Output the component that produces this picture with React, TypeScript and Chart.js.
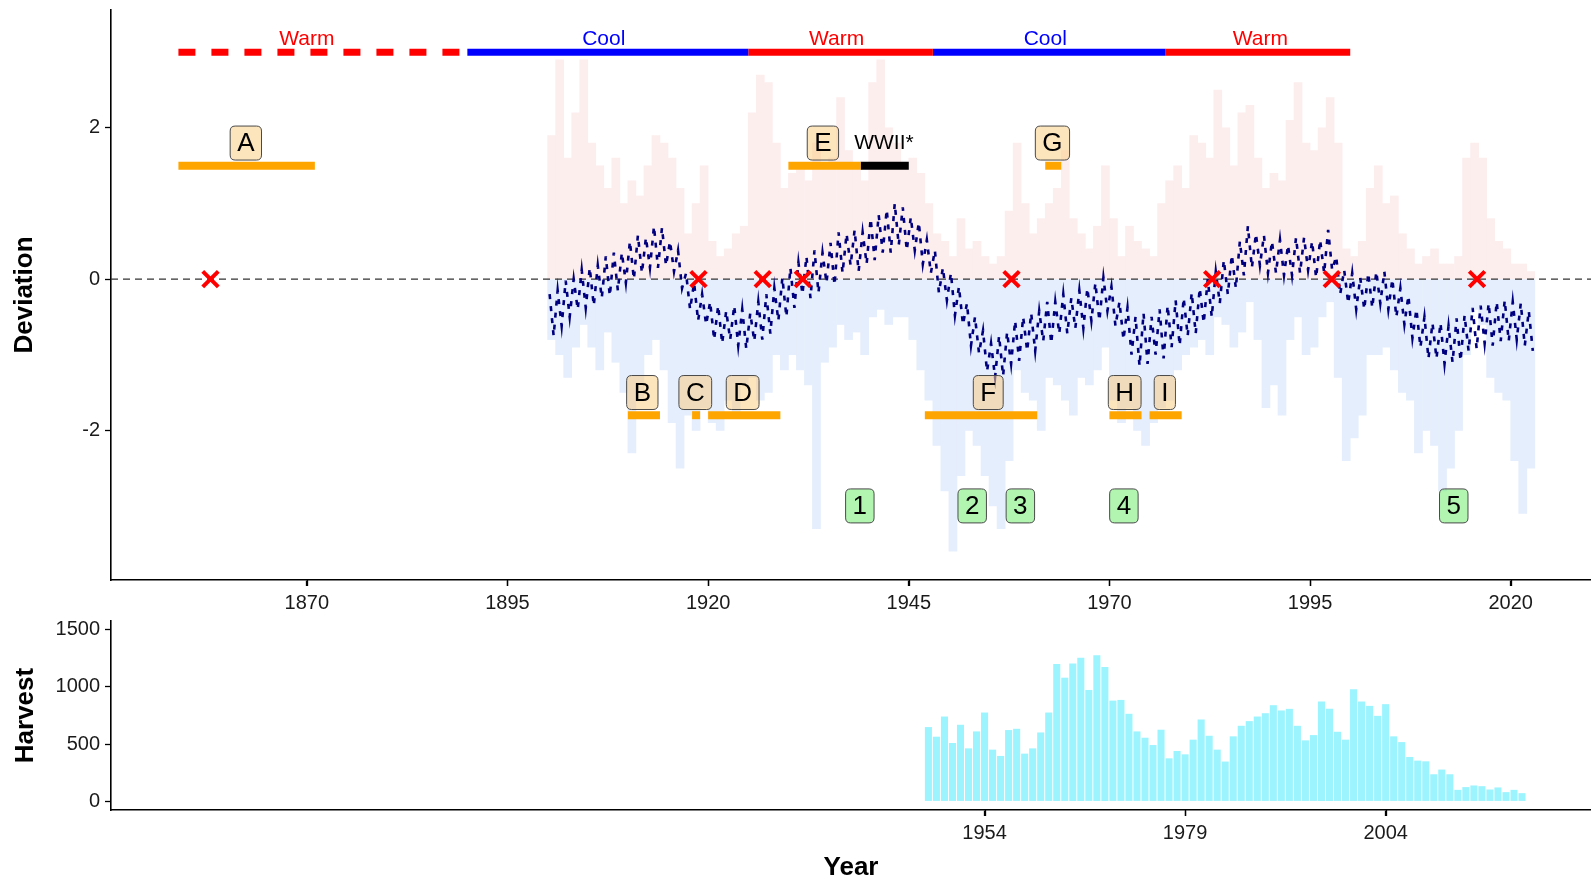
import React, { useEffect, useRef } from 'react';
import { Chart, registerables } from 'chart.js';
Chart.register(...registerables);

const FONT = '"Liberation Sans", Arial, Helvetica, sans-serif';

// ---------- top panel axes ----------
const DEV_X_MIN = 1845.6;
const DEV_X_MAX = 2030;
const DEV_Y_MIN = -3.98;
const DEV_Y_MAX = 3.56;
const devXTicks = [1870, 1895, 1920, 1945, 1970, 1995, 2020];
const devYTicks = [-2, 0, 2];

// ---------- PDO series ----------
const pdoStartYear = 1900;
// smoothed index, two readings per year (1900 .. 2022)
const pdoSmooth = [
  -0.2, -0.75, -0.15, -0.62, -0.02, -0.5, 0.0, -0.4, 0.12, -0.38, 0.15, -0.35, 0.18, -0.25, 0.3, -0.22, 0.35, -0.15, 0.35, -0.05,
  0.5, 0.0, 0.58, 0.08, 0.55, 0.15, 0.7, 0.15, 0.68, 0.18, 0.5, 0.1, 0.38, -0.12, 0.08, -0.4, -0.05, -0.55, -0.2, -0.6,
  -0.3, -0.8, -0.35, -0.85, -0.42, -0.8, -0.35, -0.88, -0.4, -0.92, -0.45, -0.82, -0.3, -0.8, -0.2, -0.72, -0.12, -0.55, 0.02, -0.5,
  0.15, -0.38, 0.22, -0.2, 0.3, -0.25, 0.38, -0.18, 0.35, -0.05, 0.48, -0.08, 0.62, 0.08, 0.6, 0.18, 0.65, 0.1, 0.62, 0.2,
  0.8, 0.25, 0.85, 0.35, 0.92, 0.35, 1.0, 0.45, 0.95, 0.38, 0.82, 0.38, 0.75, 0.2, 0.52, 0.08, 0.38, -0.18, 0.15, -0.28,
  0.08, -0.48, -0.1, -0.6, -0.32, -0.88, -0.5, -0.98, -0.68, -1.22, -0.85, -1.3, -0.75, -1.28, -0.7, -1.12, -0.55, -1.08, -0.5, -0.95,
  -0.45, -0.95, -0.42, -0.82, -0.3, -0.85, -0.3, -0.72, -0.2, -0.72, -0.25, -0.65, -0.15, -0.65, -0.12, -0.55, -0.05, -0.55, 0.02, -0.42,
  -0.1, -0.62, -0.3, -0.8, -0.38, -1.0, -0.5, -1.15, -0.45, -1.12, -0.5, -1.0, -0.4, -1.05, -0.35, -0.9, -0.28, -0.88, -0.25, -0.75,
  -0.18, -0.72, -0.12, -0.58, 0.0, -0.5, 0.1, -0.32, 0.25, -0.2, 0.32, -0.12, 0.5, 0.05, 0.7, 0.15, 0.6, 0.18, 0.58, 0.08,
  0.5, 0.08, 0.52, 0.05, 0.45, 0.05, 0.55, 0.08, 0.55, 0.12, 0.5, 0.02, 0.52, 0.08, 0.65, 0.12, 0.3, -0.2, 0.12, -0.32,
  0.08, -0.4, 0.02, -0.4, 0.08, -0.38, 0.1, -0.32, 0.1, -0.4, 0.0, -0.5, -0.12, -0.6, -0.22, -0.78, -0.4, -0.9, -0.5, -1.05,
  -0.58, -1.05, -0.58, -1.12, -0.62, -1.1, -0.52, -1.08, -0.48, -0.95, -0.38, -0.92, -0.35, -0.85, -0.32, -0.88, -0.3, -0.82, -0.28, -0.82,
  -0.3, -0.8, -0.32, -0.88, -0.42, -0.95,
];
// yearly highest and lowest monthly value (1900 .. 2022)
const pdoHigh = [
  1.9, 2.9, 1.6, 2.2, 2.9, 1.8, 1.5, 1.2, 1.6, 1.0,
  1.3, 1.1, 1.5, 1.9, 1.8, 1.6, 1.2, 0.6, 1.0, 1.5,
  0.5, 0.3, 0.4, 0.6, 0.7, 2.2, 2.7, 2.6, 1.8, 1.2,
  1.4, 1.5, 1.3, 1.8, 1.5, 1.6, 2.4, 1.7, 1.5, 1.3,
  2.6, 2.9, 2.0, 1.8, 1.5, 1.6, 1.4, 1.0, 0.6, 0.5,
  0.3, 0.8, 0.4, 0.5, 0.3, 0.2, 0.3, 0.9, 1.8, 1.0,
  0.6, 0.8, 1.0, 1.2, 1.7, 0.8, 0.6, 0.4, 0.7, 1.5,
  0.8, 0.3, 0.7, 0.5, 0.4, 0.3, 1.0, 1.3, 1.5, 1.2,
  1.9, 1.8, 1.6, 2.5, 2.0, 1.5, 2.2, 2.3, 1.6, 1.2,
  1.4, 1.3, 2.1, 2.6, 1.8, 1.7, 2.0, 2.4, 1.8, 0.4,
  0.3, 0.5, 1.2, 1.5, 1.0, 1.1, 0.6, 0.4, 0.2, 0.3,
  0.4, 0.2, 0.2, 0.3, 1.6, 1.8, 1.6, 0.8, 0.5, 0.4,
  0.2, 0.2, 0.1,
];
const pdoLow = [
  -0.8, -1.0, -1.3, -0.9, -0.6, -0.9, -1.2, -0.7, -1.1, -1.5,
  -2.3, -1.6, -1.0, -0.8, -1.2, -1.9, -2.5, -1.8, -2.0, -1.7,
  -1.9, -2.0, -1.6, -1.8, -1.4, -1.3, -1.6, -1.5, -1.0, -1.2,
  -1.0, -1.2, -1.4, -3.3, -1.1, -0.9, -0.6, -0.8, -0.7, -1.0,
  -0.5, -0.4, -0.6, -0.5, -0.5, -0.8, -1.2, -1.6, -2.2, -2.8,
  -3.6, -2.6, -2.0, -2.2, -2.6, -3.0, -3.3, -2.4, -1.2, -1.5,
  -1.6, -2.0, -1.3, -1.4, -1.6, -1.8, -1.3, -1.4, -1.2, -0.9,
  -1.6, -1.9, -1.7, -2.0, -2.2, -1.9, -1.7, -1.6, -1.2, -1.0,
  -0.9, -0.8, -1.0, -0.5, -0.6, -0.9, -0.7, -0.3, -0.8, -1.7,
  -1.4, -1.8, -0.8, -0.5, -1.0, -0.9, -0.5, -0.3, -1.3, -2.4,
  -2.1, -1.8, -1.0, -1.0, -0.9, -1.2, -1.5, -1.6, -2.3, -2.0,
  -2.2, -2.8, -2.5, -2.0, -1.0, -0.4, -0.6, -1.3, -1.5, -1.6,
  -2.4, -3.1, -2.5,
];

// ---------- regimes ----------
const periodName = ['Warm', 'Cool', 'Warm', 'Cool', 'Warm'];
const periodStart = [1854, 1890, 1925, 1948, 1977];
const periodEnd = [1890, 1925, 1948, 1977, 2000];
const periodWarm = [true, false, true, false, true];
const periodDashed = [true, false, false, false, false];
const periodLabelX = [1870, 1907, 1936, 1962, 1988.8];
const PERIOD_Y = 3;
const PERIOD_LABEL_Y = 3.18;

// ---------- events ----------
const eventName = ['A', 'B', 'C', 'D', 'E', 'F', 'G', 'H', 'I'];
const eventStart = [1854, 1910, 1918, 1920, 1930, 1947, 1962, 1970, 1975];
const eventEnd = [1871, 1914, 1919, 1929, 1939, 1961, 1964, 1974, 1979];
const eventBarY = [1.5, -1.8, -1.8, -1.8, 1.5, -1.8, 1.5, -1.8, -1.8];
const eventLabelX = [1862.4, 1911.8, 1918.4, 1924.3, 1934.3, 1954.9, 1962.9, 1971.9, 1976.9];
const eventLabelY = [1.8, -1.5, -1.5, -1.5, 1.8, -1.5, 1.8, -1.5, -1.5];
const warName = 'WWII*';
const warStart = 1939;
const warEnd = 1945;
const warBarY = 1.5;
const warLabelX = 1941.9;
const warLabelY = 1.8;

const markerName = ['1', '2', '3', '4', '5'];
const markerX = [1938.9, 1952.9, 1958.9, 1971.8, 2012.9];
const markerY = [-3, -3, -3, -3, -3];

const crossX = [1858, 1918.8, 1926.8, 1931.8, 1957.8, 1982.8, 1997.7, 2015.8];

// ---------- harvest ----------
const HARV_X_MIN = 1845.1;
const HARV_X_MAX = 2029.6;
const harvestStartYear = 1947;
const harvest = [
  649, 565, 741, 510, 669, 463, 611, 776, 452, 397,
  623, 634, 417, 463, 602, 776, 1199, 1080, 1205, 1254,
  973, 1277, 1173, 880, 886, 765, 611, 556, 492, 626,
  376, 440, 411, 539, 715, 573, 452, 348, 568, 660,
  701, 741, 770, 840, 794, 808, 660, 533, 579, 872,
  808, 608, 539, 979, 872, 834, 747, 849, 568, 518,
  388, 356, 350, 237, 278, 237, 101, 125, 139, 133,
  104, 122, 81, 101, 72,
];
const harvXTicks = [1954, 1979, 2004];
const harvYTicks = [0, 500, 1000, 1500];

const RED = '#FF0000';
const BLUE = '#0000FF';
const ORANGE = '#FFA500';
const TICK_LEN = 6;

function axisStyle(tickValues: number[], width?: number, height?: number) {
  return {
    afterBuildTicks: (axis: any) => {
      axis.ticks = tickValues.map((v) => ({ value: v }));
    },
    afterFit: (axis: any) => {
      if (width !== undefined) axis.width = width;
      if (height !== undefined) axis.height = height;
      axis.paddingTop = 0;
      axis.paddingBottom = 0;
      axis.paddingLeft = 0;
      axis.paddingRight = 0;
    },
    border: { display: true, color: '#000', width: 1.6 },
    grid: {
      display: true,
      offset: false,
      drawOnChartArea: false,
      drawTicks: true,
      tickLength: TICK_LEN,
      color: '#000',
      tickWidth: 1.3,
    },
    ticks: {
      color: '#1a1a1a',
      font: { family: FONT, size: 20 },
      padding: 5,
      autoSkip: false,
      maxRotation: 0,
      callback: (v: any) => String(v),
    },
  };
}

// tick marks drawn straight from the scales (safety net for the x axes)
const tickMarkPlugin = {
  id: 'tickMarks',
  afterDraw(chart: any) {
    const { ctx } = chart;
    const xs = chart.scales.x;
    ctx.save();
    ctx.strokeStyle = '#000';
    ctx.lineWidth = 1.3;
    xs.ticks.forEach((t: any) => {
      const px = Math.round(xs.getPixelForValue(t.value)) + 0.5;
      ctx.beginPath();
      ctx.moveTo(px, xs.top);
      ctx.lineTo(px, xs.top + TICK_LEN);
      ctx.stroke();
    });
    ctx.restore();
  },
};

function roundRect(ctx: CanvasRenderingContext2D, x: number, y: number, w: number, h: number, r: number) {
  ctx.beginPath();
  ctx.moveTo(x + r, y);
  ctx.lineTo(x + w - r, y);
  ctx.quadraticCurveTo(x + w, y, x + w, y + r);
  ctx.lineTo(x + w, y + h - r);
  ctx.quadraticCurveTo(x + w, y + h, x + w - r, y + h);
  ctx.lineTo(x + r, y + h);
  ctx.quadraticCurveTo(x, y + h, x, y + h - r);
  ctx.lineTo(x, y + r);
  ctx.quadraticCurveTo(x, y, x + r, y);
  ctx.closePath();
}

function drawLabelBox(ctx: CanvasRenderingContext2D, text: string, cx: number, cy: number, fill: string) {
  ctx.font = `26px ${FONT}`;
  const w = ctx.measureText(text).width + 14;
  const h = 34;
  roundRect(ctx, cx - w / 2, cy - h / 2, w, h, 5);
  ctx.fillStyle = fill;
  ctx.fill();
  ctx.lineWidth = 1;
  ctx.strokeStyle = '#4a4a4a';
  ctx.stroke();
  ctx.fillStyle = '#000';
  ctx.textAlign = 'center';
  ctx.textBaseline = 'middle';
  ctx.fillText(text, cx, cy + 1);
}

const annotationPlugin = {
  id: 'pdoAnnotations',
  afterDatasetsDraw(chart: any) {
    const { ctx, scales } = chart;
    const x = scales.x;
    const y = scales.y;
    ctx.save();
    ctx.textAlign = 'center';
    ctx.textBaseline = 'middle';
    ctx.font = `21px ${FONT}`;
    periodName.forEach((n, i) => {
      ctx.fillStyle = periodWarm[i] ? RED : BLUE;
      ctx.fillText(n, x.getPixelForValue(periodLabelX[i]), y.getPixelForValue(PERIOD_LABEL_Y));
    });
    ctx.fillStyle = '#000';
    ctx.font = `21px ${FONT}`;
    ctx.fillText(warName, x.getPixelForValue(warLabelX), y.getPixelForValue(warLabelY));
    eventName.forEach((n, i) => {
      drawLabelBox(ctx, n, x.getPixelForValue(eventLabelX[i]), y.getPixelForValue(eventLabelY[i]), 'rgba(250,205,135,0.55)');
    });
    markerName.forEach((n, i) => {
      drawLabelBox(ctx, n, x.getPixelForValue(markerX[i]), y.getPixelForValue(markerY[i]), 'rgba(100,235,100,0.5)');
    });
    ctx.restore();
  },
};

function segment(x0: number, x1: number, yv: number, color: string, width: number, dash: number[] = []) {
  return {
    type: 'line',
    data: [{ x: x0, y: yv }, { x: x1, y: yv }],
    borderColor: color,
    borderWidth: width,
    borderDash: dash,
    borderCapStyle: 'butt',
    pointRadius: 0,
    order: 3,
  };
}

function DeviationChart() {
  const ref = useRef<HTMLCanvasElement | null>(null);
  useEffect(() => {
    if (!ref.current) return;
    const highData = pdoHigh.map((v, i) => ({ x: pdoStartYear + i + 0.5, y: v }));
    const lowData = pdoLow.map((v, i) => ({ x: pdoStartYear + i + 0.5, y: v }));
    const smoothData = pdoSmooth.map((v, i) => ({ x: pdoStartYear + 0.25 + i * 0.5, y: v }));
    const datasets: any[] = [
      {
        type: 'line',
        data: crossX.map((v) => ({ x: v, y: 0 })),
        showLine: false,
        pointStyle: 'crossRot',
        pointRadius: 11,
        pointBorderWidth: 4,
        pointBorderColor: RED,
        pointBackgroundColor: RED,
        order: 1,
      },
      {
        type: 'line',
        data: smoothData,
        borderColor: '#00007F',
        borderWidth: 2.6,
        borderDash: [5, 7],
        pointRadius: 0,
        tension: 0,
        order: 4,
      },
      {
        type: 'line',
        data: [{ x: DEV_X_MIN, y: 0 }, { x: DEV_X_MAX, y: 0 }],
        borderColor: '#333',
        borderWidth: 1.2,
        borderDash: [7, 5],
        pointRadius: 0,
        order: 5,
      },
      {
        type: 'bar',
        data: highData,
        backgroundColor: '#FDEEEE',
        grouped: false,
        barPercentage: 1,
        categoryPercentage: 1,
        order: 9,
      },
      {
        type: 'bar',
        data: lowData,
        backgroundColor: '#E5EEFC',
        grouped: false,
        barPercentage: 1,
        categoryPercentage: 1,
        order: 9,
      },
    ];
    periodName.forEach((_, i) => {
      datasets.push(
        segment(periodStart[i], periodEnd[i], PERIOD_Y, periodWarm[i] ? RED : BLUE, 7, periodDashed[i] ? [17, 16] : [])
      );
    });
    eventName.forEach((_, i) => {
      datasets.push(segment(eventStart[i], eventEnd[i], eventBarY[i], ORANGE, 8));
    });
    datasets.push(segment(warStart, warEnd, warBarY, '#000', 8));

    const chart = new Chart(ref.current, {
      type: 'line',
      data: { datasets },
      options: {
        animation: false,
        responsive: false,
        maintainAspectRatio: false,
        devicePixelRatio: 1,
        layout: { autoPadding: false, padding: { top: 10, left: 0, right: 0, bottom: 0 } },
        plugins: { legend: { display: false }, tooltip: { enabled: false } },
        scales: {
          x: {
            type: 'linear',
            min: DEV_X_MIN,
            max: DEV_X_MAX,
            offset: false,
            ...axisStyle(devXTicks, undefined, 35),
          },
          y: {
            type: 'linear',
            min: DEV_Y_MIN,
            max: DEV_Y_MAX,
            ...axisStyle(devYTicks, 111, undefined),
            title: {
              display: true,
              text: 'Deviation',
              color: '#000',
              font: { family: FONT, size: 26, weight: 'bold' },
              padding: { top: 9, bottom: 0 },
            },
          },
        },
      } as any,
      plugins: [annotationPlugin, tickMarkPlugin],
    } as any);
    return () => chart.destroy();
  }, []);
  return <canvas ref={ref} width={1591} height={615} style={{ position: 'absolute', left: 0, top: 0, width: 1591, height: 615 }} />;
}

function HarvestChart() {
  const ref = useRef<HTMLCanvasElement | null>(null);
  useEffect(() => {
    if (!ref.current) return;
    const chart = new Chart(ref.current, {
      type: 'bar',
      data: {
        datasets: [
          {
            data: harvest.map((v, i) => ({ x: harvestStartYear + i, y: v })),
            backgroundColor: '#9CF4FF',
            barPercentage: 0.88,
            categoryPercentage: 1,
          },
        ],
      },
      options: {
        animation: false,
        responsive: false,
        maintainAspectRatio: false,
        devicePixelRatio: 1,
        layout: { autoPadding: false, padding: { top: 11, left: 0, right: 0, bottom: 0 } },
        plugins: { legend: { display: false }, tooltip: { enabled: false } },
        scales: {
          x: {
            type: 'linear',
            min: HARV_X_MIN,
            max: HARV_X_MAX,
            offset: false,
            ...axisStyle(harvXTicks, undefined, 71),
            title: {
              display: true,
              text: 'Year',
              color: '#000',
              font: { family: FONT, size: 26, weight: 'bold' },
              padding: { top: 0, bottom: -2 },
            },
          },
          y: {
            type: 'linear',
            min: -75,
            max: 1575,
            ...axisStyle(harvYTicks, 111, undefined),
            title: {
              display: true,
              text: 'Harvest',
              color: '#000',
              font: { family: FONT, size: 26, weight: 'bold' },
              padding: { top: 10, bottom: 0 },
            },
          },
        },
      } as any,
      plugins: [tickMarkPlugin],
    } as any);
    return () => chart.destroy();
  }, []);
  return <canvas ref={ref} width={1591} height={271} style={{ position: 'absolute', left: 0, top: 610, width: 1591, height: 271 }} />;
}

export default function App() {
  return (
    <div style={{ position: 'absolute', left: 0, top: 0, width: 1591, height: 881, background: '#fff', overflow: 'hidden' }}>
      <DeviationChart />
      <HarvestChart />
    </div>
  );
}
